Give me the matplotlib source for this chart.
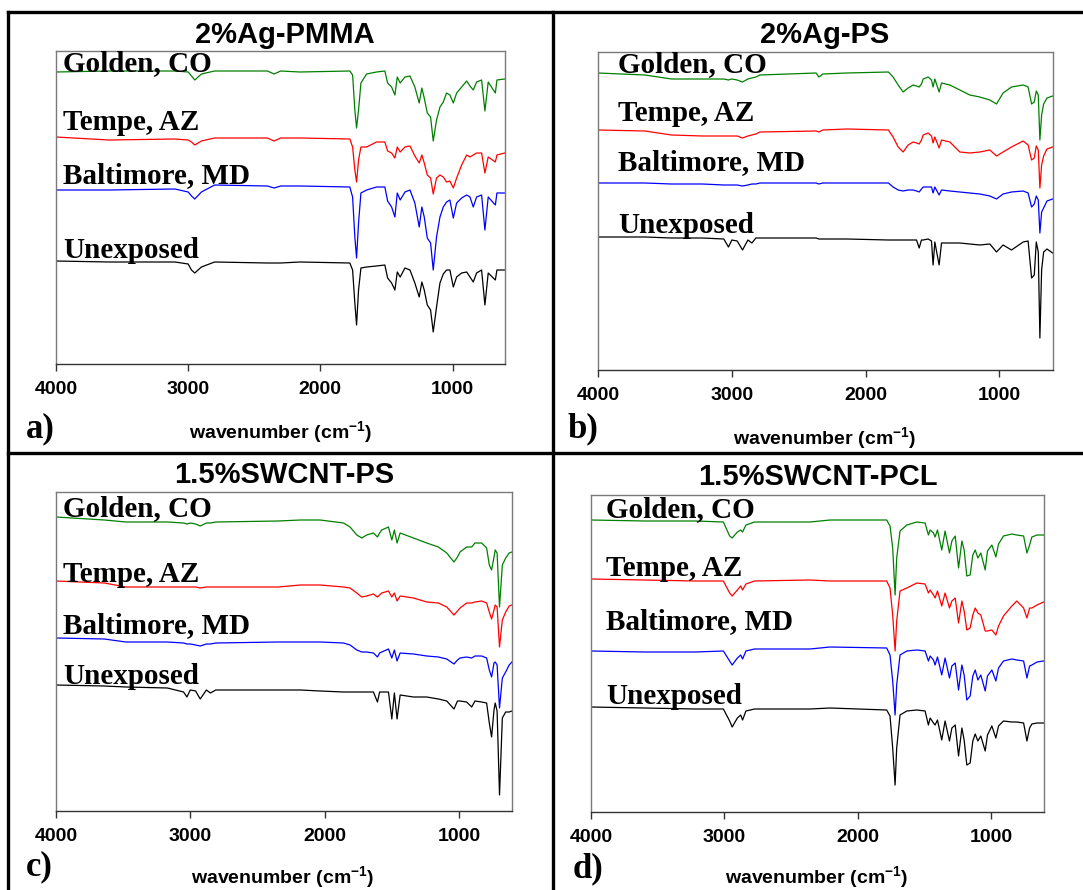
import matplotlib
matplotlib.use("Agg")
import matplotlib.pyplot as plt
from matplotlib.lines import Line2D

plt.rcParams["mathtext.fontset"] = "custom"
plt.rcParams["mathtext.rm"] = "Liberation Sans:bold"
plt.rcParams["mathtext.default"] = "rm"

W, H = 1083, 890

SITES = ["Golden, CO", "Tempe, AZ", "Baltimore, MD", "Unexposed"]
COLORS = ["#008000", "#ff0000", "#0000ff", "#000000"]
TITLES = ["2%Ag-PMMA", "2%Ag-PS", "1.5%SWCNT-PS", "1.5%SWCNT-PCL"]
LETTERS = ["a)", "b)", "c)", "d)"]
XTICKS = [4000, 3000, 2000, 1000]

# wavenumbers (cm-1) and transmittance (a.u., offset traces)
WN_A = [4000, 3600, 3100, 3000, 2975, 2950, 2900, 2800, 2400, 2350, 2300, 2155,
        1777, 1756, 1739, 1726, 1711, 1693, 1650, 1575, 1512, 1491, 1461, 1436,
        1418, 1396, 1360, 1322, 1285, 1252, 1232, 1214, 1191, 1166, 1146, 1121,
        1095, 1070, 1045, 1020, 994, 969, 931, 893, 868, 843, 818, 780, 755, 730,
        676, 664, 605]
GOLDEN_A = [292, 293, 293, 292, 288, 284, 290, 293, 293, 290, 293, 292,
            293, 289, 254, 236, 254, 281, 290, 292, 293, 281, 277, 269,
            287, 281, 287, 288, 277, 261, 276, 266, 251, 247, 223, 244,
            257, 262, 271, 269, 261, 271, 277, 283, 278, 274, 282, 284, 253, 282,
            271, 284, 285]
TEMPE_A = [227, 224, 225, 224, 222, 219, 223, 226, 226, 223, 226, 226,
           225, 217, 194, 182, 204, 217, 217, 222, 222, 213, 211, 206,
           217, 212, 217, 218, 208, 201, 209, 201, 189, 186, 170, 186,
           189, 187, 182, 183, 176, 186, 199, 209, 207, 209, 211, 211, 191, 207,
           202, 209, 211]
BALTIMORE_A = [174, 174, 175, 172, 168, 165, 172, 179, 178, 176, 178, 178,
               177, 167, 127, 106, 141, 171, 174, 177, 177, 163, 157, 147,
               171, 164, 172, 174, 161, 137, 157, 147, 126, 121, 94, 127,
               147, 157, 162, 164, 146, 161, 166, 169, 167, 157, 167, 169, 134, 167,
               159, 171, 171]
UNEXPOSED_A = [103, 102, 102, 100, 94, 91, 97, 102, 101, 101, 101, 102,
               101, 94, 61, 39, 74, 96, 97, 98, 99, 86, 81, 74,
               92, 87, 96, 94, 81, 67, 82, 74, 59, 54, 32, 57,
               81, 90, 94, 94, 77, 87, 91, 92, 87, 82, 91, 94, 59, 91,
               84, 94, 94]

WN_B = [4000, 3650, 3450, 3220, 3060, 3025, 3000, 2960, 2920, 2880, 2850, 2820,
        2790, 2370, 2350, 2320, 2140, 1830, 1795, 1757, 1720, 1683, 1645, 1620,
        1600, 1583, 1570, 1533, 1508, 1496, 1483, 1451, 1433, 1371, 1296, 1222,
        1147, 1072, 1022, 973, 910, 823, 786, 760, 740, 725, 710, 698, 685, 670,
        645, 602]
GOLDEN_B = [297, 295, 291, 291, 291, 290, 291, 290, 288, 291, 292, 293,
            295, 297, 293, 296, 297, 298, 293, 285, 278, 282, 285, 284,
            283, 286, 291, 293, 290, 283, 291, 278, 287, 285, 280, 275,
            273, 270, 266, 277, 283, 285, 283, 266, 268, 279, 275, 230, 255, 266,
            272, 274]
TEMPE_B = [240, 239, 235, 234, 234, 234, 234, 234, 232, 234, 235, 236,
           238, 239, 238, 240, 241, 240, 233, 223, 218, 225, 228, 227,
           226, 230, 235, 237, 234, 227, 233, 222, 230, 228, 218, 217,
           218, 220, 214, 218, 223, 229, 225, 210, 212, 224, 220, 182, 205, 214,
           221, 223]
BALTIMORE_B = [187, 187, 186, 186, 185, 185, 185, 185, 184, 185, 186, 186,
               187, 187, 186, 187, 187, 187, 183, 180, 179, 180, 180, 179,
               178, 181, 183, 183, 183, 177, 183, 175, 180, 179, 178, 177,
               176, 174, 171, 176, 178, 179, 177, 163, 166, 174, 170, 137, 158, 162,
               169, 171]
UNEXPOSED_B = [133, 133, 132, 132, 131, 123, 130, 129, 120, 130, 127, 132,
               132, 132, 131, 131, 131, 130, 130, 130, 130, 130, 130, 130,
               122, 130, 130, 131, 129, 105, 128, 105, 127, 127, 127, 126,
               125, 126, 118, 125, 120, 128, 129, 92, 95, 128, 118, 32, 100, 118,
               121, 117]

WN_C = [4000, 3640, 3480, 3170, 3050, 3025, 3000, 2960, 2926, 2880, 2850, 2810,
        2345, 2180, 2033, 1859, 1810, 1760, 1723, 1686, 1636, 1606, 1590, 1574,
        1524, 1499, 1480, 1460, 1437, 1338, 1239, 1152, 1090, 1036, 1010, 991,
        942, 904, 880, 830, 793, 773, 756, 738, 729, 715, 697, 676, 651, 625, 605]
GOLDEN_C = [294, 291, 289, 289, 288, 287, 288, 287, 285, 288, 288, 289,
            290, 291, 291, 288, 284, 276, 273, 276, 278, 274, 278, 281,
            284, 271, 281, 268, 278, 273, 268, 264, 258, 249, 254, 259,
            264, 264, 268, 268, 263, 246, 241, 254, 261, 258, 204, 246, 253, 258, 259]
TEMPE_C = [230, 228, 224, 224, 224, 224, 224, 224, 223, 224, 224, 224,
           224, 226, 226, 224, 223, 218, 214, 215, 217, 214, 216, 218,
           220, 214, 218, 210, 215, 213, 209, 208, 204, 196, 200, 203,
           208, 208, 209, 210, 208, 199, 192, 201, 206, 204, 164, 191, 199, 205, 206]
BALTIMORE_C = [173, 172, 169, 169, 168, 167, 167, 166, 165, 167, 167, 168,
               169, 169, 169, 168, 166, 161, 159, 159, 158, 154, 158, 159,
               162, 153, 161, 150, 158, 157, 155, 154, 152, 147, 151, 153,
               154, 153, 155, 155, 153, 141, 134, 148, 149, 146, 103, 133, 139, 146, 149]
UNEXPOSED_C = [126, 125, 124, 123, 119, 114, 121, 120, 112, 121, 118, 121,
               121, 121, 120, 119, 119, 119, 119, 119, 119, 109, 119, 119,
               119, 92, 118, 92, 116, 114, 114, 112, 110, 102, 110, 110,
               109, 104, 110, 109, 108, 88, 74, 101, 108, 100, 16, 93, 99, 99, 100]

WN_D = [4000, 3600, 3215, 3007, 2960, 2941, 2902, 2877, 2863, 2838, 2773, 2357,
        2207, 1782, 1757, 1737, 1719, 1707, 1682, 1631, 1556, 1494, 1469, 1456,
        1431, 1419, 1401, 1369, 1344, 1311, 1293, 1268, 1243, 1218, 1201, 1181,
        1156, 1136, 1118, 1098, 1076, 1043, 1026, 993, 963, 943, 906, 843, 806,
        755, 730, 710, 693, 654, 605]
GOLDEN_D = [292, 291, 291, 290, 276, 274, 280, 282, 280, 287, 290, 290,
            292, 292, 286, 264, 217, 254, 281, 287, 290, 289, 277, 282,
            279, 275, 282, 262, 281, 259, 271, 276, 244, 271, 262, 236,
            237, 257, 262, 254, 259, 242, 261, 267, 255, 268, 276, 278, 277,
            276, 259, 267, 275, 277, 277]
TEMPE_D = [233, 232, 231, 231, 219, 216, 222, 226, 222, 228, 231, 232,
           231, 231, 224, 197, 161, 191, 221, 224, 229, 228, 219, 222,
           217, 214, 221, 206, 219, 204, 211, 214, 189, 211, 201, 182,
           184, 197, 204, 199, 197, 181, 181, 182, 177, 186, 196, 206, 211,
           204, 194, 204, 204, 207, 210]
BALTIMORE_D = [161, 160, 160, 161, 151, 147, 154, 157, 153, 161, 163, 163,
               165, 164, 157, 131, 97, 127, 157, 161, 162, 161, 151, 156,
               152, 147, 155, 137, 154, 134, 146, 149, 122, 147, 137, 112,
               116, 136, 142, 132, 137, 121, 136, 142, 131, 144, 151, 153, 152,
               151, 134, 146, 147, 150, 151]
UNEXPOSED_D = [105, 104, 103, 103, 91, 85, 94, 97, 92, 101, 103, 103,
               104, 102, 96, 64, 27, 64, 97, 101, 102, 101, 87, 94,
               89, 87, 92, 72, 91, 71, 84, 87, 56, 84, 72, 47,
               49, 71, 78, 71, 76, 61, 77, 86, 74, 86, 91, 90, 90,
               89, 71, 84, 88, 89, 89]

PANELS = [
    (WN_A, [GOLDEN_A, TEMPE_A, BALTIMORE_A, UNEXPOSED_A]),
    (WN_B, [GOLDEN_B, TEMPE_B, BALTIMORE_B, UNEXPOSED_B]),
    (WN_C, [GOLDEN_C, TEMPE_C, BALTIMORE_C, UNEXPOSED_C]),
    (WN_D, [GOLDEN_D, TEMPE_D, BALTIMORE_D, UNEXPOSED_D]),
]

# layout in pixels: axes box (left, right, top, bottom), x right limit
AX_BOX = [(56, 505, 51, 364), (598, 1053, 52, 370),
          (56, 512, 492, 811), (591, 1044, 495, 812)]
XRIGHT = [603, 600, 604, 602]
TITLE_XY = [(285, 35), (825, 35), (284, 475), (818, 477)]
XLABEL_XY = [(281, 432), (825, 438), (283, 877), (817, 877)]
LETTER_XY = [(26, 437), (568, 437), (26, 875), (573, 877)]
LABEL_X = [63, 618, 63, 606]
LABEL_BASE = [(71, 130, 183, 258), (72, 121, 170, 233),
              (516, 582, 633, 684), (517, 576, 629, 704)]


def fx(px):
    return px / W


def fy(py):
    return 1 - py / H


fig = plt.figure(figsize=(W / 100, H / 100), dpi=100)
fig.patch.set_facecolor("white")

for i, (wn, series) in enumerate(PANELS):
    l, r, t, b = AX_BOX[i]
    ax = fig.add_axes([fx(l), fy(b), (r - l) / W, (b - t) / H])
    for ys, c in zip(series, COLORS):
        ax.plot(wn, ys, color=c, lw=0.9)
    ax.set_xlim(4000, XRIGHT[i])
    ax.set_ylim(0, b - t)
    ax.set_xticks(XTICKS)
    ax.set_xticklabels([str(v) for v in XTICKS])
    ax.set_yticks([])
    ax.tick_params(axis="x", direction="out", length=5, width=1,
                   color="#333333", pad=7)
    for lab in ax.get_xticklabels():
        lab.set_fontfamily("Liberation Sans")
        lab.set_fontweight("bold")
        lab.set_fontsize(14)
    for side, sp in ax.spines.items():
        sp.set_color("#333333" if side == "bottom" else "#7a7a7a")
        sp.set_linewidth(1.0)

    fig.text(fx(TITLE_XY[i][0]), fy(TITLE_XY[i][1]), TITLES[i],
             ha="center", va="center", fontsize=21, fontweight="bold",
             family="Liberation Sans")
    fig.text(fx(XLABEL_XY[i][0]), fy(XLABEL_XY[i][1]),
             r"wavenumber (cm$^{-1}$)", ha="center", va="center",
             fontsize=14, fontweight="bold", family="Liberation Sans")
    fig.text(fx(LETTER_XY[i][0]), fy(LETTER_XY[i][1]), LETTERS[i],
             ha="left", va="baseline", fontsize=25, fontweight="bold",
             family="Liberation Serif")
    for name, yb in zip(SITES, LABEL_BASE[i]):
        fig.text(fx(LABEL_X[i]), fy(yb), name, ha="left", va="baseline",
                 fontsize=21, fontweight="bold", family="Liberation Serif")

# black frame lines between the panels
for (x0, y0, x1, y1) in [(8, 12, 1083, 12), (8, 12, 8, 890),
                         (553, 12, 553, 890), (8, 453, 1083, 453)]:
    fig.add_artist(Line2D([fx(x0), fx(x1)], [fy(y0), fy(y1)],
                          transform=fig.transFigure, color="black", lw=2.4))

fig.savefig("out.png", dpi=100)
